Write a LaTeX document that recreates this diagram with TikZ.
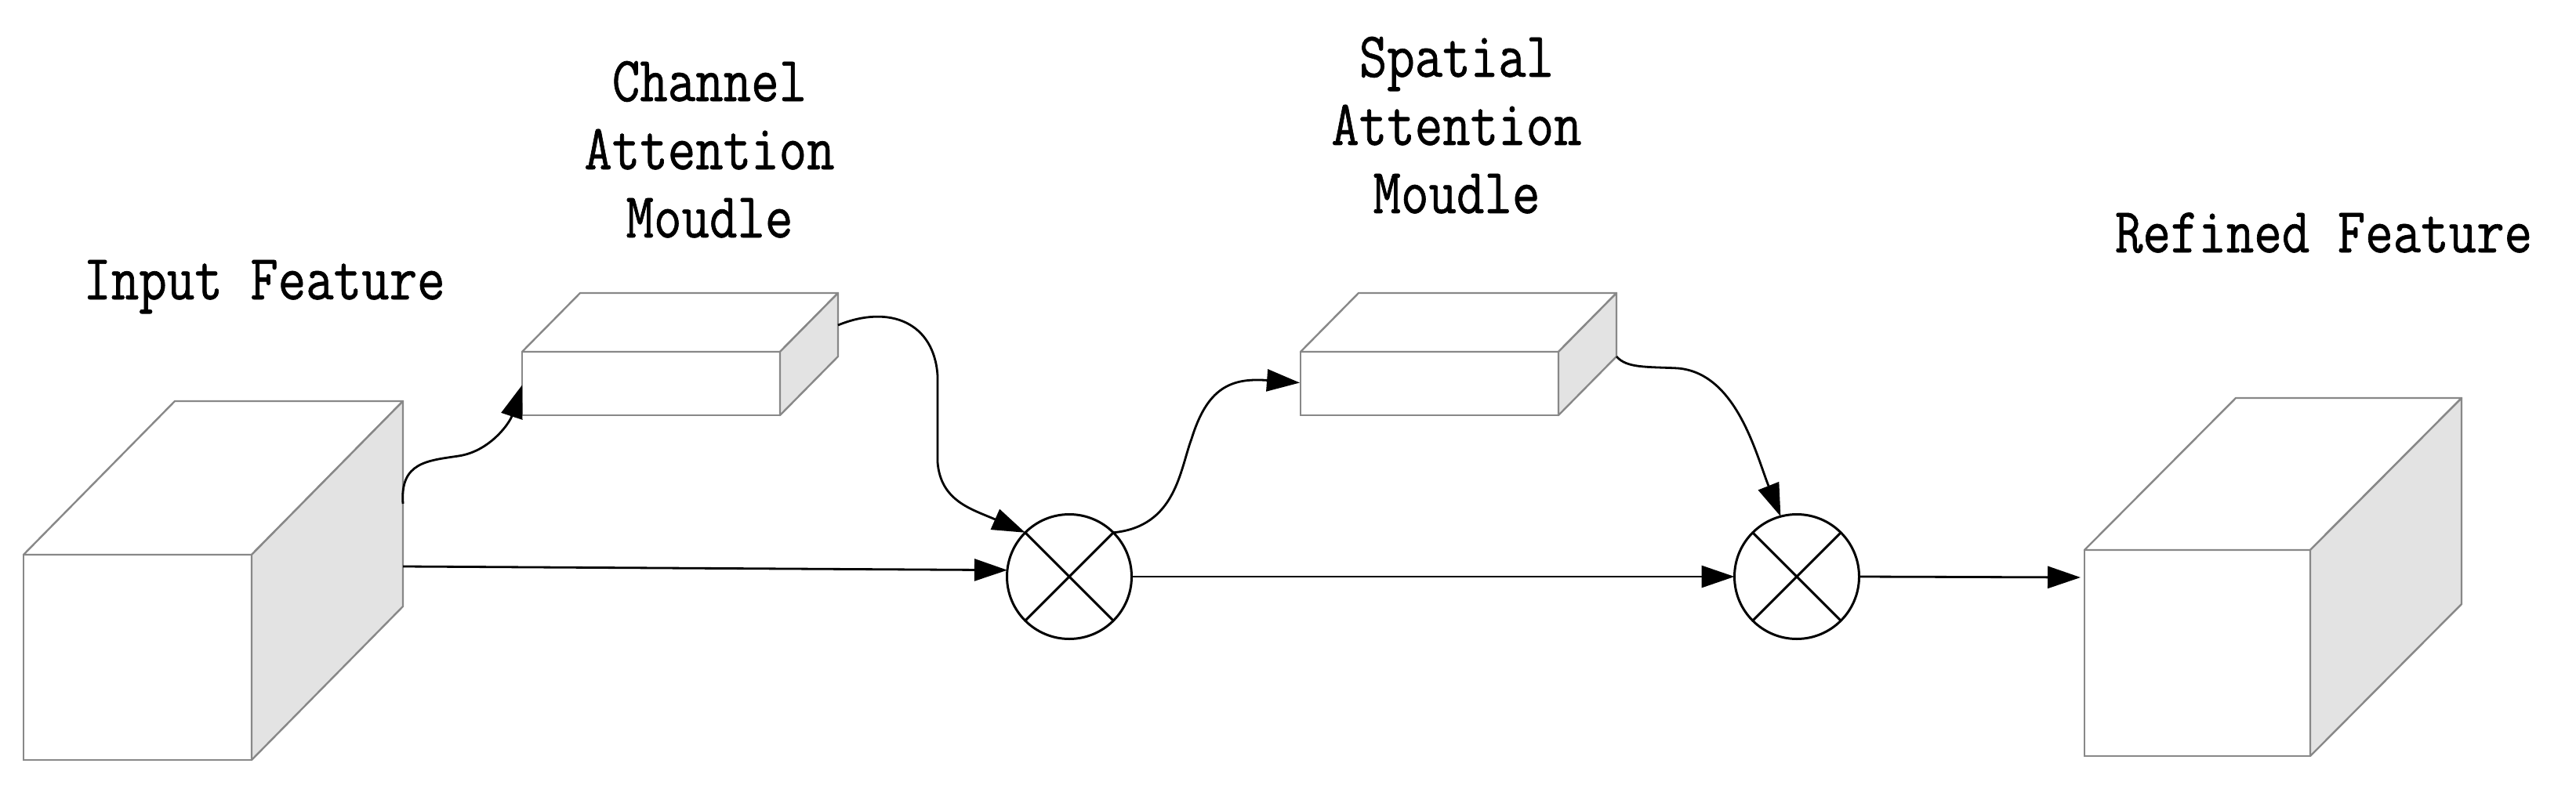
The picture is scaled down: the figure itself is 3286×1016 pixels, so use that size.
\documentclass[tikz,border=0pt]{standalone}
\usepackage{fontspec}
\usetikzlibrary{arrows.meta,calc}
\newfontfamily\lblfont{Latin Modern Mono}[FakeStretch=0.84,FakeBold=0.8]
\definecolor{edgegray}{HTML}{888888}
\definecolor{sidegray}{HTML}{E3E3E3}
\begin{document}
\begin{tikzpicture}[x=1pt,y=-1pt,
  face/.style={draw=edgegray, line width=2.4pt, fill=white, rectangle, inner sep=0pt, outer sep=0pt},
  edge/.style={draw=edgegray, line width=2.4pt, line join=round},
  mult/.style={draw=black, line width=3pt, circle, minimum size=159pt, inner sep=0pt, outer sep=0pt, fill=white},
  xline/.style={draw=black, line width=3pt},
  arr/.style={draw=black, line width=2.8pt, -{Triangle[length=42pt,width=28pt]}},
  lbl/.style={font=\lblfont\fontsize{82}{87}\selectfont, inner sep=0pt, align=center, anchor=base}
]
\useasboundingbox (0,0) rectangle (3286,1016);

% input feature cube
\node[face, minimum width=291pt, minimum height=262pt] (inF) at (175.5,839) {};
\draw[edge, fill=white] (inF.north west) -- ++(193,-196) -- ++(291,0) -- (inF.north east) -- cycle;
\draw[edge, fill=sidegray] (inF.north east) -- ++(193,-196) -- ++(0,262) -- (inF.south east) -- cycle;
\coordinate (inR1) at ($(inF.north east)+(193,-65)$);
\coordinate (inR2) at ($(inF.north east)+(193,15)$);

% channel attention box
\node[face, minimum width=329pt, minimum height=81pt] (ch) at (830.5,489.5) {};
\draw[edge, fill=white] (ch.north west) -- ++(74,-75) -- ++(329,0) -- (ch.north east) -- cycle;
\draw[edge, fill=sidegray] (ch.north east) -- ++(74,-75) -- ++(0,81) -- (ch.south east) -- cycle;
\coordinate (chR) at ($(ch.north east)+(74,-34)$);
\coordinate (chL) at ($(ch.west)+(0,2)$);

% spatial attention box
\node[face, minimum width=329pt, minimum height=81pt] (sp) at (1823.5,489.5) {};
\draw[edge, fill=white] (sp.north west) -- ++(74,-75) -- ++(329,0) -- (sp.north east) -- cycle;
\draw[edge, fill=sidegray] (sp.north east) -- ++(74,-75) -- ++(0,81) -- (sp.south east) -- cycle;
\coordinate (spR) at ($(sp.north east)+(74,6)$);
\coordinate (spL) at ($(sp.west)+(-1,-1)$);

% refined feature cube
\node[face, minimum width=288pt, minimum height=263pt] (outF) at (2803,833.5) {};
\draw[edge, fill=white] (outF.north west) -- ++(193,-194) -- ++(288,0) -- (outF.north east) -- cycle;
\draw[edge, fill=sidegray] (outF.north east) -- ++(193,-194) -- ++(0,263) -- (outF.south east) -- cycle;
\coordinate (outL) at ($(outF.north west)+(-5,35)$);

% multiplication circles
\node[mult] (c1) at (1364,736) {};
\draw[xline] (c1.45) -- (c1.225) (c1.135) -- (c1.315);
\node[mult] (c2) at (2292,736) {};
\draw[xline] (c2.45) -- (c2.225) (c2.135) -- (c2.315);

% connectors
\draw[arr] (inR1) .. controls (510,590) and (545,588) .. (585,582) .. controls (625,576) and (650,540) .. (chL);
\draw[arr] (inR2) -- (c1.174);
\draw[arr] (chR) .. controls (1135,388) and (1192,412) .. (1196,480) -- (1196,590) .. controls (1200,640) and (1240,650) .. (c1.135);
\draw[arr] (c1.45) .. controls (1500,672) and (1505,600) .. (1520,560) .. controls (1540,495) and (1570,482) .. (spL);
\draw[arr] (c1.east) -- (c2.west);
\draw[arr] (spR) .. controls (2075,470) and (2100,468) .. (2140,470) .. controls (2215,476) and (2240,580) .. (c2.105);
\draw[arr] (c2.east) -- (outL);

% labels (base anchor = baseline of the last line)
\node[lbl] (tin) at (337,382) {Input Feature};
\node[lbl] (tch) at (905,303) {Channel\\Attention\\Moudle};
\node[lbl] (tsp) at (1858,272) {Spatial\\Attention\\Moudle};
\node[lbl] (tout) at (2964,322) {Refined Feature};
\end{tikzpicture}
\end{document}
